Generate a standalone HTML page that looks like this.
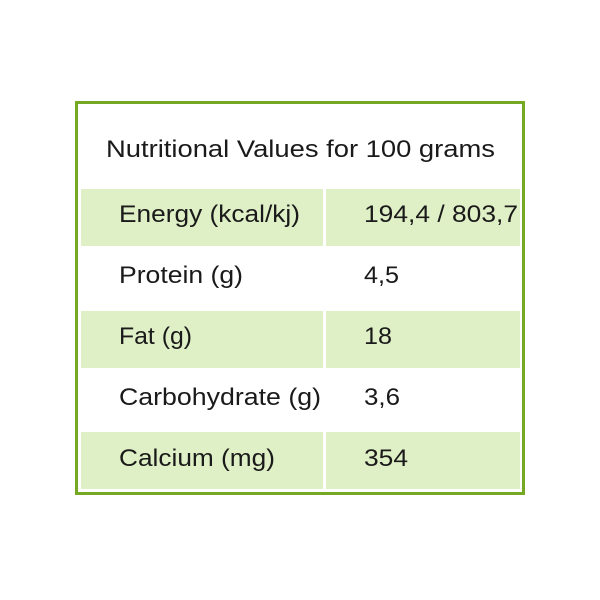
<!DOCTYPE html>
<html><head><meta charset="utf-8"><style>html,body{margin:0;padding:0;background:#fff}</style></head>
<body>
<svg width="600" height="600" xmlns="http://www.w3.org/2000/svg" style="display:block">
<rect x="0" y="0" width="600" height="600" fill="#fff"/>
<rect x="76.5" y="102.5" width="447" height="391" fill="#fff" stroke="#76a923" stroke-width="3"/>
<g fill="#e0f0c6">
<rect x="81" y="189" width="242" height="57"/><rect x="326" y="189" width="194" height="57"/>
<rect x="81" y="311" width="242" height="57"/><rect x="326" y="311" width="194" height="57"/>
<rect x="81" y="432" width="242" height="57"/><rect x="326" y="432" width="194" height="57"/>
</g>
<g font-family="Liberation Sans, sans-serif" font-size="24" fill="#1a1a1a">
<text x="106" y="157" textLength="389" lengthAdjust="spacingAndGlyphs">Nutritional Values for 100 grams</text>
<text x="119" y="222" textLength="181" lengthAdjust="spacingAndGlyphs">Energy (kcal/kj)</text>
<text x="364" y="222" textLength="154" lengthAdjust="spacingAndGlyphs">194,4 / 803,7</text>
<text x="119" y="283" textLength="124" lengthAdjust="spacingAndGlyphs">Protein (g)</text>
<text x="364" y="283" textLength="35" lengthAdjust="spacingAndGlyphs">4,5</text>
<text x="119" y="344" textLength="73" lengthAdjust="spacingAndGlyphs">Fat (g)</text>
<text x="364" y="344" textLength="28" lengthAdjust="spacingAndGlyphs">18</text>
<text x="119" y="405" textLength="202" lengthAdjust="spacingAndGlyphs">Carbohydrate (g)</text>
<text x="364" y="405" textLength="36" lengthAdjust="spacingAndGlyphs">3,6</text>
<text x="119" y="466" textLength="156" lengthAdjust="spacingAndGlyphs">Calcium (mg)</text>
<text x="364" y="466" textLength="44" lengthAdjust="spacingAndGlyphs">354</text>
</g>
</svg>
</body></html>
